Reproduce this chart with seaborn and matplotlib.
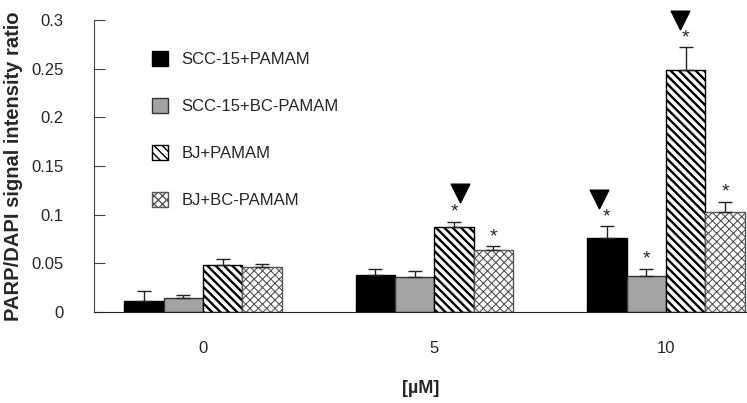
import numpy as np
import pandas as pd
import seaborn as sns
import matplotlib.pyplot as plt
from matplotlib.patches import Patch

doses = ["0", "5", "10"]
series = ["SCC-15+PAMAM", "SCC-15+BC-PAMAM", "BJ+PAMAM", "BJ+BC-PAMAM"]
means = {
    "SCC-15+PAMAM": [0.0108, 0.038, 0.0758],
    "SCC-15+BC-PAMAM": [0.0144, 0.036, 0.0374],
    "BJ+PAMAM": [0.048, 0.0870, 0.249],
    "BJ+BC-PAMAM": [0.0463, 0.0636, 0.1023],
}
errs = {
    "SCC-15+PAMAM": [0.0104, 0.0066, 0.0122],
    "SCC-15+BC-PAMAM": [0.0026, 0.0062, 0.0072],
    "BJ+PAMAM": [0.0068, 0.0055, 0.023],
    "BJ+BC-PAMAM": [0.0027, 0.0037, 0.0107],
}
# significance stars: (dose index, series index)
stars = [(1, 2), (1, 3), (2, 0), (2, 1), (2, 2), (2, 3)]
# triangles (x in category units, y in data units)
tri_x = [1.11, 1.71, 2.06]
tri_y = [0.122, 0.116, 0.300]

rows = []
for s in series:
    for i, d in enumerate(doses):
        rows.append({"dose": d, "series": s, "value": means[s][i], "err": errs[s][i]})
df = pd.DataFrame(rows)

sns.set_style("ticks")
plt.rcParams["font.family"] = ["Liberation Sans", "DejaVu Sans"]

fig = plt.figure(figsize=(7.47, 4.03), dpi=100)
ax = fig.add_axes([0.126, 0.226, 0.874, 0.724])

palette = {"SCC-15+PAMAM": "black", "SCC-15+BC-PAMAM": "#a3a3a3",
           "BJ+PAMAM": "white", "BJ+BC-PAMAM": "white"}
sns.barplot(data=df, x="dose", y="value", hue="series", hue_order=series,
            order=doses, palette=palette, width=0.68, errorbar=None,
            edgecolor="black", linewidth=1, legend=False, ax=ax)

bars = list(ax.containers)
hatches = [None, None, "\\\\\\\\", "xxxx"]
edges = ["black", "#333333", "black", "#555555"]
for k, cont in enumerate(bars):
    for p in cont:
        p.set_edgecolor(edges[k])
        if hatches[k]:
            p.set_hatch(hatches[k])
            if hasattr(p, "set_hatch_linewidth"):
                p.set_hatch_linewidth(1.7 if k == 2 else 0.8)

# error bars (upper only) and stars
for k, cont in enumerate(bars):
    s = series[k]
    for i, p in enumerate(cont):
        xc = p.get_x() + p.get_width() / 2
        top = p.get_height()
        ax.errorbar(xc, top, yerr=[[0], [errs[s][i]]], fmt="none",
                    ecolor="#222222", elinewidth=1, capsize=5, capthick=1)
        if (i, k) in stars:
            ax.text(xc, top + errs[s][i] + 0.010, "*", ha="center", va="center",
                    fontsize=14)

ax.scatter(tri_x, tri_y, marker="v", s=180, color="black", clip_on=False, zorder=5)

ax.set_xlim(-0.47, 2.35)
ax.set_ylim(0, 0.3)
ax.set_yticks([0, 0.05, 0.1, 0.15, 0.2, 0.25, 0.3])
ax.set_yticklabels(["0", "0.05", "0.1", "0.15", "0.2", "0.25", "0.3"])
sns.despine(ax=ax)
ax.spines["left"].set_color("#444444")
ax.spines["bottom"].set_color("#222222")
ax.tick_params(axis="y", direction="in", color="#444444", length=8,
               labelsize=12, pad=22)
ax.tick_params(axis="x", length=0, labelsize=12, pad=21)
ax.set_xlabel("[µM]", fontsize=13, fontweight="bold", labelpad=17)
ax.set_ylabel("PARP/DAPI signal intensity ratio", fontsize=14.5, fontweight="bold",
              labelpad=6)

handles = [Patch(facecolor=palette[s], edgecolor=edges[k], hatch=hatches[k], label=s)
           for k, s in enumerate(series)]
ax.legend(handles=handles, loc="upper left", bbox_to_anchor=(0.065, 0.945),
          frameon=False, fontsize=12, labelspacing=1.85, handlelength=1.0,
          handleheight=1.0, handletextpad=0.8)

fig.savefig("out.png", dpi=100)
